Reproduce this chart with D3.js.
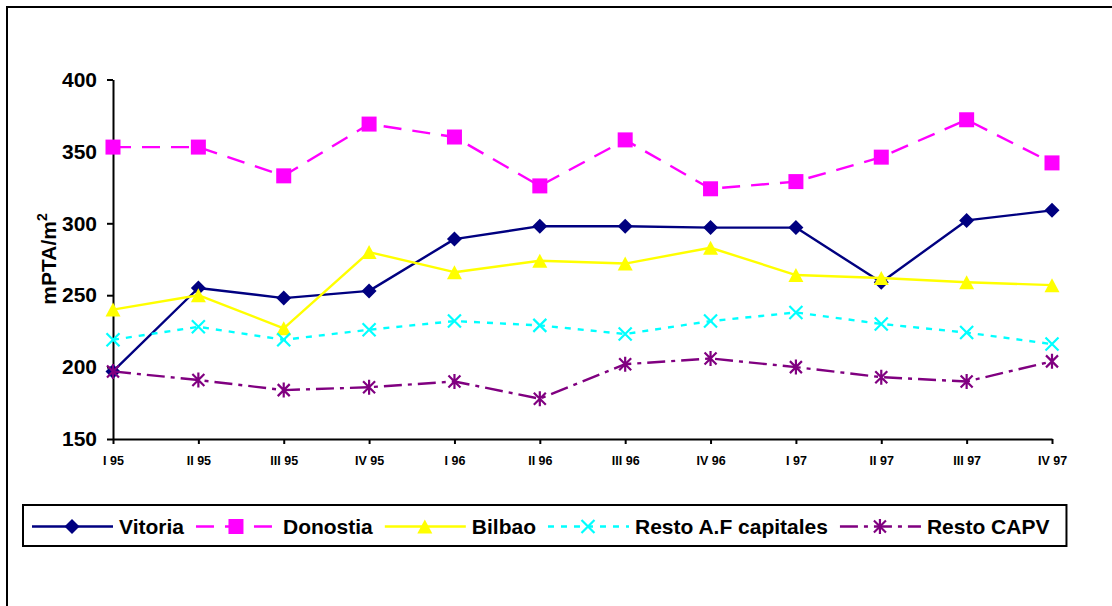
<!DOCTYPE html>
<html>
<head>
<meta charset="utf-8">
<script src="https://cdn.jsdelivr.net/npm/d3@7"></script>
<style>
  html, body { margin: 0; padding: 0; background: #fff; }
  svg { display: block; font-family: "Liberation Sans", Arial, sans-serif; font-weight: bold; }
</style>
</head>
<body>
<svg id="chart" width="1112" height="606"></svg>
<script>
// Quarterly price per square metre (thousand PTA / m2)
const quarters = ["I 95", "II 95", "III 95", "IV 95", "I 96", "II 96", "III 96", "IV 96", "I 97", "II 97", "III 97", "IV 97"];
const vitoria = [197, 255, 248, 253, 289, 298, 298, 297, 297, 259, 302, 309];
const donostia = [353, 353, 333, 369, 360, 326, 358, 324, 329, 346, 372, 342];
const bilbao = [240, 250, 227, 280, 266, 274, 272, 283, 264, 262, 259, 257];
const restoCapitales = [219, 228, 219, 226, 232, 229, 223, 232, 238, 230, 224, 216];
const restoCapv = [197, 191, 184, 186, 190, 178, 202, 206, 200, 193, 190, 204];
const seriesNames = ["Vitoria", "Donostia", "Bilbao", "Resto A.F capitales", "Resto CAPV"];
const yTicks = [150, 200, 250, 300, 350, 400];

// Series table: values plus drawing style
const series = [
  { name: seriesNames[0], values: vitoria, color: "#000080", dash: null, marker: "diamond" },
  { name: seriesNames[1], values: donostia, color: "#FF00FF", dash: "18,11", marker: "square" },
  { name: seriesNames[2], values: bilbao, color: "#FFFF00", dash: null, marker: "triangle" },
  { name: seriesNames[3], values: restoCapitales, color: "#00FFFF", dash: "6,7", marker: "cross" },
  { name: seriesNames[4], values: restoCapv, color: "#800080", dash: "18,6,4,6", marker: "star" }
];

const svg = d3.select("#chart");

// Outer frame (runs off the right and bottom edges)
svg.append("rect")
  .attr("x", 7).attr("y", 7).attr("width", 1200).attr("height", 700)
  .attr("fill", "none").attr("stroke", "#000").attr("stroke-width", 2);

const x = d3.scalePoint().domain(quarters).range([113, 1052]);
const y = d3.scaleLinear().domain([150, 400]).range([439, 79.5]);

// Marker drawing
function drawMarker(g, type, color) {
  if (type === "diamond") {
    const r = 7.5;
    g.append("path").attr("d", `M0,${-r}L${r},0L0,${r}L${-r},0Z`).attr("fill", color);
  } else if (type === "square") {
    g.append("rect").attr("x", -7.5).attr("y", -7.5).attr("width", 15).attr("height", 15).attr("fill", color);
  } else if (type === "triangle") {
    g.append("path").attr("d", "M0,-7L7.5,7L-7.5,7Z").attr("fill", color);
  } else if (type === "cross") {
    const r = 6.5;
    g.append("path").attr("d", `M${-r},${-r}L${r},${r}M${-r},${r}L${r},${-r}`)
      .attr("stroke", color).attr("stroke-width", 2.2).attr("fill", "none");
  } else if (type === "star") {
    const r = 6, h = 7.5;
    g.append("path").attr("d", `M${-r},${-r}L${r},${r}M${-r},${r}L${r},${-r}M0,${-h}L0,${h}`)
      .attr("stroke", color).attr("stroke-width", 2.2).attr("fill", "none");
  }
}

// Axes
const yAxis = d3.axisLeft(y).tickValues(yTicks).tickSize(6).tickSizeOuter(0).tickPadding(10).tickFormat(d3.format("d"));
const yG = svg.append("g").attr("transform", `translate(${x.range()[0]},0)`).call(yAxis);
yG.select(".domain").attr("stroke-width", 2);
yG.selectAll(".tick line").attr("stroke-width", 2);
yG.selectAll(".tick text").attr("font-size", 21).attr("font-family", "Liberation Sans, Arial, sans-serif").attr("font-weight", "bold").attr("fill", "#000");

const xAxis = d3.axisBottom(x).tickSize(5).tickSizeOuter(0).tickPadding(12);
const xG = svg.append("g").attr("transform", `translate(0,${y.range()[0]})`).call(xAxis);
xG.select(".domain").attr("stroke-width", 2);
xG.selectAll(".tick line").attr("stroke-width", 2);
xG.selectAll(".tick text").attr("font-size", 12.5).attr("font-family", "Liberation Sans, Arial, sans-serif").attr("font-weight", "bold").attr("fill", "#000");

// Y axis title
const yTitle = svg.append("text")
  .attr("transform", "translate(56,259) rotate(-90)")
  .attr("text-anchor", "middle")
  .attr("font-size", 21);
yTitle.append("tspan").text("mPTA/m");
yTitle.append("tspan").attr("font-size", 14).attr("dy", -9).text("2");

// Series lines and markers
const line = d3.line().x((d, i) => x(quarters[i])).y(d => y(d));
series.forEach(s => {
  const g = svg.append("g");
  g.append("path")
    .attr("d", line(s.values))
    .attr("fill", "none")
    .attr("stroke", s.color)
    .attr("stroke-width", 2.4)
    .attr("stroke-linejoin", "round")
    .attr("stroke-dasharray", s.dash);
  s.values.forEach((v, i) => {
    const m = g.append("g").attr("transform", `translate(${x(quarters[i])},${y(v)})`);
    drawMarker(m, s.marker, s.color);
  });
});

// Legend
const legendTop = 505, legendH = 41, legendLeft = 23;
const legend = svg.append("g");
const legendBox = legend.append("rect")
  .attr("x", legendLeft).attr("y", legendTop).attr("height", legendH)
  .attr("fill", "#fff").attr("stroke", "#000").attr("stroke-width", 2);
const cy = legendTop + legendH / 2 + 1;
let cursor = 32;
series.forEach(s => {
  const g = legend.append("g");
  g.append("line")
    .attr("x1", cursor).attr("x2", cursor + 81)
    .attr("y1", cy).attr("y2", cy)
    .attr("stroke", s.color).attr("stroke-width", 2.4)
    .attr("stroke-dasharray", s.dash);
  const m = g.append("g").attr("transform", `translate(${cursor + 40},${cy})`);
  drawMarker(m, s.marker, s.color);
  const t = g.append("text")
    .attr("x", cursor + 87).attr("y", cy + 7.5)
    .attr("font-size", 21).attr("fill", "#000")
    .text(s.name);
  cursor = cursor + 87 + t.node().getComputedTextLength() + 12;
});
legendBox.attr("width", cursor - 12 + 17 - legendLeft);
</script>
</body>
</html>
